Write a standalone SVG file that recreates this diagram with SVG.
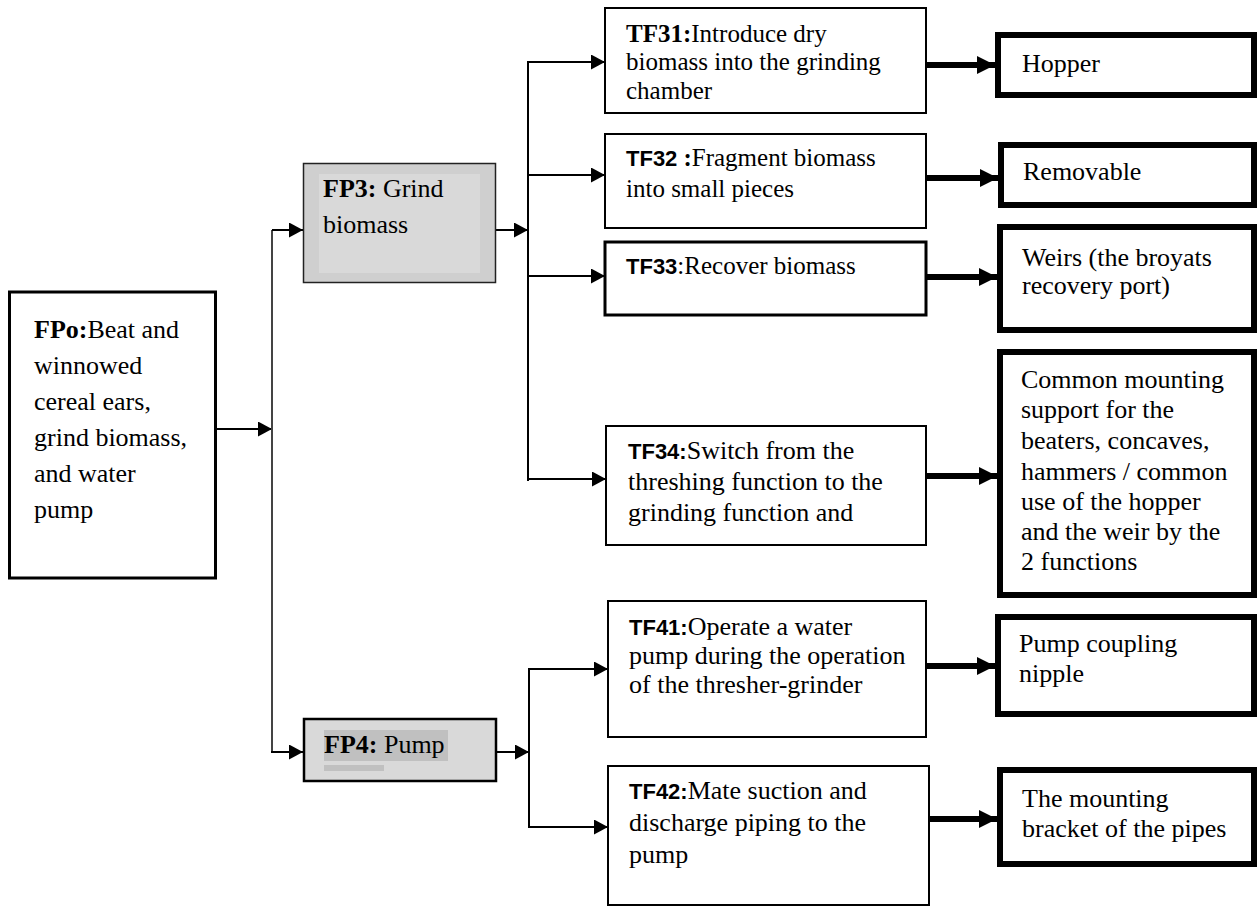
<svg xmlns="http://www.w3.org/2000/svg" width="1259" height="907" viewBox="0 0 1259 907">
<style>
.bg{fill:#ffffff}
.box{fill:#ffffff;stroke:#000;stroke-width:2}
.boxk{fill:#ffffff;stroke:#000;stroke-width:6}
.t{font-family:"Liberation Serif","Times New Roman",serif;fill:#000}
.s25{font-size:25px}
.s26{font-size:26px}
.b{font-weight:bold}
.bn{font-family:"Liberation Sans",Arial,sans-serif;font-weight:bold;font-size:22px}
.ln{fill:none;stroke:#000;stroke-width:2}
.lg{fill:none;stroke:#444;stroke-width:2}
.lk{fill:none;stroke:#000;stroke-width:6}
</style>
<defs>
<marker id="ah" markerUnits="userSpaceOnUse" markerWidth="14" markerHeight="15" refX="14" refY="7.5" orient="auto">
<path d="M0,0 L14,7.5 L0,15 z" fill="#000"/>
</marker>
<marker id="ahk" markerUnits="userSpaceOnUse" markerWidth="18" markerHeight="18" refX="18" refY="9" orient="auto">
<path d="M0,0 L18,9 L0,18 z" fill="#000"/>
</marker>
</defs>
<rect class="bg" x="0" y="0" width="1259" height="907"/>

<g id="connectors">
<line class="ln" x1="216" y1="429" x2="272" y2="429" marker-end="url(#ah)"/>
<polyline class="lg" points="272,752 272,230"/>
<line class="ln" x1="272" y1="230" x2="303" y2="230" marker-end="url(#ah)"/>
<line class="ln" x1="271" y1="752" x2="303" y2="752" marker-end="url(#ah)"/>
<line class="ln" x1="496" y1="230" x2="528" y2="230" marker-end="url(#ah)"/>
<line class="ln" x1="528" y1="61" x2="528" y2="481"/>
<line class="ln" x1="527" y1="62" x2="605" y2="62" marker-end="url(#ah)"/>
<line class="ln" x1="527" y1="175" x2="605" y2="175" marker-end="url(#ah)"/>
<line class="ln" x1="527" y1="276" x2="605" y2="276" marker-end="url(#ah)"/>
<line class="ln" x1="527" y1="479" x2="606" y2="479" marker-end="url(#ah)"/>
<line class="ln" x1="496" y1="752" x2="529" y2="752" marker-end="url(#ah)"/>
<line class="ln" x1="529" y1="668" x2="529" y2="828"/>
<line class="ln" x1="528" y1="669" x2="608" y2="669" marker-end="url(#ah)"/>
<line class="ln" x1="528" y1="827" x2="608" y2="827" marker-end="url(#ah)"/>
<line class="lk" x1="926" y1="65" x2="995" y2="65" marker-end="url(#ahk)"/>
<line class="lk" x1="926" y1="178" x2="998" y2="178" marker-end="url(#ahk)"/>
<line class="lk" x1="926" y1="277" x2="997" y2="277" marker-end="url(#ahk)"/>
<line class="lk" x1="926" y1="476" x2="997" y2="476" marker-end="url(#ahk)"/>
<line class="lk" x1="926" y1="666" x2="995" y2="666" marker-end="url(#ahk)"/>
<line class="lk" x1="929" y1="819" x2="997" y2="819" marker-end="url(#ahk)"/>
</g>

<g id="FPo">
<rect x="9.5" y="292" width="206" height="286" fill="#fff" stroke="#000" stroke-width="3"/>
<text class="t s26" x="34" y="338"><tspan class="b">FPo:</tspan>Beat and</text>
<text class="t s26" x="34" y="374">winnowed</text>
<text class="t s26" x="34" y="410">cereal ears,</text>
<text class="t s26" x="34" y="446">grind biomass,</text>
<text class="t s26" x="34" y="482">and water</text>
<text class="t s26" x="34" y="518">pump</text>
</g>

<g id="FP3">
<rect x="303.5" y="163.5" width="192" height="119" fill="#cfcfcf" stroke="#222" stroke-width="1.5"/>
<rect x="319" y="174" width="161" height="99" fill="#d9d9d9"/>
<text class="t s26" x="323" y="197"><tspan class="b">FP3:</tspan> Grind</text>
<text class="t s26" x="323" y="233">biomass</text>
</g>

<g id="FP4">
<rect x="304" y="719" width="192" height="62" fill="#d9d9d9" stroke="#000" stroke-width="2.5"/>
<rect x="324" y="730" width="124" height="31" fill="#c0c0c0"/>
<rect x="324" y="765" width="60" height="6" fill="#c0c0c0"/>
<text class="t s26" x="324" y="753"><tspan class="b">FP4:</tspan> Pump</text>
</g>

<g id="TF31">
<rect class="box" x="605" y="8" width="321" height="105"/>
<text class="t s25" x="626" y="42"><tspan class="b">TF31:</tspan>Introduce dry</text>
<text class="t s25" x="626" y="70">biomass into the grinding</text>
<text class="t s25" x="626" y="99">chamber</text>
</g>

<g id="TF32">
<rect class="box" x="605" y="134" width="321" height="94"/>
<text class="t s25" x="626" y="166"><tspan class="bn">TF32 </tspan><tspan class="b">:</tspan>Fragment biomass</text>
<text class="t s25" x="626" y="197">into small pieces</text>
</g>

<g id="TF33">
<rect x="605" y="242" width="321" height="73" fill="#fff" stroke="#000" stroke-width="3"/>
<text class="t s25" x="626" y="274"><tspan class="bn">TF33</tspan>:Recover biomass</text>
</g>

<g id="TF34">
<rect class="box" x="606" y="426" width="320" height="119"/>
<text class="t s26" x="628" y="459"><tspan class="bn">TF34:</tspan>Switch from the</text>
<text class="t s26" x="628" y="490">threshing function to the</text>
<text class="t s26" x="628" y="521">grinding function and</text>
</g>

<g id="TF41">
<rect class="box" x="608" y="601" width="318" height="136"/>
<text class="t s26" x="629" y="635"><tspan class="bn">TF41:</tspan>Operate a water</text>
<text class="t s26" x="629" y="664">pump during the operation</text>
<text class="t s26" x="629" y="693">of the thresher-grinder</text>
</g>

<g id="TF42">
<rect class="box" x="608" y="766" width="321" height="139"/>
<text class="t s26" x="629" y="799"><tspan class="bn">TF42:</tspan>Mate suction and</text>
<text class="t s26" x="629" y="831">discharge piping to the</text>
<text class="t s26" x="629" y="863">pump</text>
</g>

<g id="Hopper">
<rect class="boxk" x="998" y="35" width="256" height="60"/>
<text class="t s26" x="1022" y="72">Hopper</text>
</g>

<g id="Removable">
<rect class="boxk" x="1001" y="145" width="253" height="60"/>
<text class="t s26" x="1023" y="180">Removable</text>
</g>

<g id="Weirs">
<rect class="boxk" x="1000" y="227" width="254" height="103"/>
<text class="t s26" x="1022" y="266">Weirs (the broyats</text>
<text class="t s26" x="1022" y="294">recovery port)</text>
</g>

<g id="Common">
<rect class="boxk" x="1000" y="352" width="254" height="243"/>
<text class="t s26" x="1021" y="388">Common mounting</text>
<text class="t s26" x="1021" y="418">support for the</text>
<text class="t s26" x="1021" y="449">beaters, concaves,</text>
<text class="t s26" x="1021" y="480">hammers / common</text>
<text class="t s26" x="1021" y="510">use of the hopper</text>
<text class="t s26" x="1021" y="540">and the weir by the</text>
<text class="t s26" x="1021" y="570">2 functions</text>
</g>

<g id="PumpCoupling">
<rect class="boxk" x="998" y="617" width="256" height="97"/>
<text class="t s26" x="1019" y="652">Pump coupling</text>
<text class="t s26" x="1019" y="682">nipple</text>
</g>

<g id="Bracket">
<rect class="boxk" x="1000" y="770" width="254" height="94"/>
<text class="t s26" x="1022" y="807">The mounting</text>
<text class="t s26" x="1022" y="837">bracket of the pipes</text>
</g>
</svg>
